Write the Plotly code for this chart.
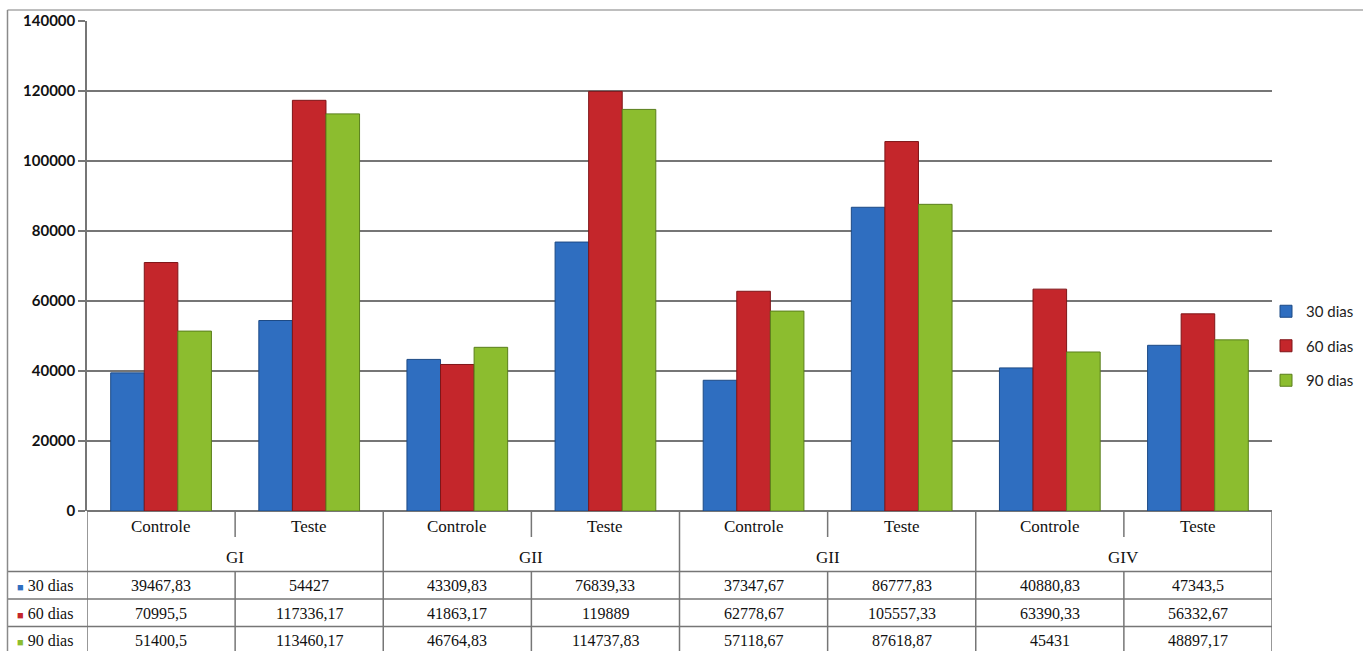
import plotly.graph_objects as go

categories = ["Controle", "Teste"] * 4
groups = ["GI", "GII", "GII", "GIV"]
series_names = ["30 dias", "60 dias", "90 dias"]
vals_30 = [39467.83, 54427, 43309.83, 76839.33, 37347.67, 86777.83, 40880.83, 47343.5]
vals_60 = [70995.5, 117336.17, 41863.17, 119889, 62778.67, 105557.33, 63390.33, 56332.67]
vals_90 = [51400.5, 113460.17, 46764.83, 114737.83, 57118.67, 87618.87, 45431, 48897.17]
labels_30 = ["39467,83", "54427", "43309,83", "76839,33", "37347,67", "86777,83", "40880,83", "47343,5"]
labels_60 = ["70995,5", "117336,17", "41863,17", "119889", "62778,67", "105557,33", "63390,33", "56332,67"]
labels_90 = ["51400,5", "113460,17", "46764,83", "114737,83", "57118,67", "87618,87", "45431", "48897,17"]

colors = ["#2f6ec0", "#c4262b", "#8cbd2f"]
edge = ["#1d4a85", "#7f1518", "#5a7f1c"]

W, H = 1363, 651
ML, MR, MT, MB = 87, 91, 21, 140
PW = W - ML - MR
PH = H - MT - MB


def px_x(px):
    return (px - ML) / PW


def px_y(py):
    return (H - MB - py) / PH


fig = go.Figure()
xs = list(range(len(categories)))
for i, (name, vals) in enumerate(zip(series_names, [vals_30, vals_60, vals_90])):
    fig.add_trace(go.Bar(
        x=xs, y=vals, name=name, legendgroup=name,
        marker=dict(color=colors[i], line=dict(color=edge[i], width=1)),
    ))

shapes = []
annotations = []
grid = "#767676"
# horizontal table lines
for py in [571.5, 599, 626.5]:
    shapes.append(dict(type="line", xref="paper", yref="paper",
                       x0=px_x(7.5), x1=1, y0=px_y(py), y1=px_y(py),
                       line=dict(color=grid, width=1.5)))
# vertical table lines
for k in range(len(categories) + 1):
    xb = k - 0.5
    if k % 2 == 0:
        shapes.append(dict(type="line", xref="x", yref="paper", x0=xb, x1=xb,
                           y0=0, y1=px_y(660), line=dict(color=grid, width=1.5)))
    else:
        shapes.append(dict(type="line", xref="x", yref="paper", x0=xb, x1=xb,
                           y0=0, y1=px_y(537), line=dict(color=grid, width=1.5)))
        shapes.append(dict(type="line", xref="x", yref="paper", x0=xb, x1=xb,
                           y0=px_y(571.5), y1=px_y(660), line=dict(color=grid, width=1.5)))
# outer border (top and left only)
shapes.append(dict(type="line", xref="paper", yref="paper",
                   x0=px_x(7.5), x1=px_x(1370), y0=px_y(10), y1=px_y(10),
                   line=dict(color="#a8a8a8", width=1.5)))
shapes.append(dict(type="line", xref="paper", yref="paper",
                   x0=px_x(7.5), x1=px_x(7.5), y0=px_y(10), y1=px_y(660),
                   line=dict(color="#8a8a8a", width=1.5)))

tfont = dict(family="Liberation Serif", size=16, color="#111")
hfont = dict(family="Liberation Serif", size=17, color="#111")
for k, c in enumerate(categories):
    annotations.append(dict(x=k, y=px_y(526), xref="x", yref="paper", text=c,
                            yanchor="middle", showarrow=False, font=hfont))
for g, name in enumerate(groups):
    annotations.append(dict(x=2 * g + 0.5, y=px_y(557), xref="x", yref="paper", text=name,
                            yanchor="middle", showarrow=False, font=hfont))
row_y = [585, 613, 640.5]
for r, labs in enumerate([labels_30, labels_60, labels_90]):
    annotations.append(dict(x=px_x(15), y=px_y(row_y[r]), xref="paper", yref="paper",
                            xanchor="left", yanchor="middle",
                            text=f"<span style='color:{colors[r]}; font-size:11px'>■</span> {series_names[r]}",
                            showarrow=False, font=tfont))
    for k, t in enumerate(labs):
        annotations.append(dict(x=k, y=px_y(row_y[r]), xref="x", yref="paper", text=t,
                                yanchor="middle", showarrow=False, font=tfont))

fig.update_layout(
    width=W, height=H,
    margin=dict(l=ML, r=MR, t=MT, b=MB, autoexpand=False),
    paper_bgcolor="white", plot_bgcolor="white",
    barmode="group", bargap=0.32, bargroupgap=0,
    showlegend=True,
    legend=dict(xref="container", yref="container", x=1266 / W, y=(H - 346) / H,
                xanchor="left", yanchor="middle",
                font=dict(family="Lato", size=15, color="#222"),
                tracegroupgap=12, itemwidth=30, bgcolor="rgba(0,0,0,0)"),
    xaxis=dict(range=[-0.5, 7.5], showticklabels=False, showgrid=False,
               zeroline=False, showline=False, ticks=""),
    yaxis=dict(range=[0, 140000], dtick=20000, showgrid=True, gridcolor=grid,
               gridwidth=1.5, zeroline=True, zerolinecolor=grid, zerolinewidth=1.5,
               showline=True, linecolor=grid, linewidth=1.5,
               ticks="outside", ticklen=7, tickcolor=grid, tickwidth=1.5,
               tickformat="d",
               tickfont=dict(family="Lato", size=15, color="#111", weight="bold"),
               automargin=False),
    shapes=shapes, annotations=annotations,
)

fig.write_html("out.html")
